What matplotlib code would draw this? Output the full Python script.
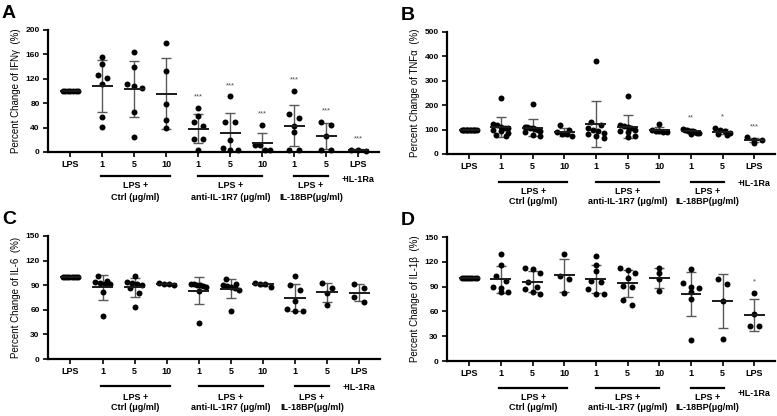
import numpy as np
import matplotlib
matplotlib.use('Agg')
import matplotlib.pyplot as plt

plt.rcParams['font.family'] = ['Liberation Sans', 'DejaVu Sans']

tick_labels = ['LPS', '1', '5', '10', '1', '5', '10', '1', '5', 'LPS']
group_names = ['Ctrl (\u03bcg/ml)', 'anti-IL-1R7 (\u03bcg/ml)', 'IL-18BP(\u03bcg/ml)']

# IFN-gamma, % change (one list per column)
ifng = [
    [100, 100, 100, 100, 100, 100, 100],
    [155, 145, 127, 121, 111, 57, 41],
    [164, 140, 112, 109, 105, 66, 25],
    [178, 132, 78, 52, 39],
    [72, 59, 50, 42, 21, 21, 4],
    [91, 49, 49, 19, 7, 4, 4],
    [44, 11, 11, 4, 4],
    [100, 62, 55, 43, 33, 4, 4],
    [50, 45, 27, 4, 4],
    [4, 4, 1],
]
ifng_stars = ['', '', '', '', '***', '***', '***', '***', '***', '***']

# TNF-alpha
tnfa = [
    [100, 100, 100, 100, 100, 100, 100, 100, 100, 100, 100, 100],
    [228, 125, 118, 112, 108, 105, 100, 95, 88, 78, 74],
    [205, 112, 110, 108, 105, 102, 100, 95, 90, 78, 72],
    [120, 100, 92, 82, 80, 75],
    [383, 130, 118, 105, 100, 95, 88, 80, 72, 65],
    [237, 120, 115, 110, 105, 100, 95, 90, 75, 70],
    [122, 97, 95, 93, 92, 90],
    [103, 100, 98, 96, 95, 93, 90, 88, 85, 80],
    [108, 97, 95, 88, 82, 78],
    [68, 58, 57, 45],
]
tnfa_stars = ['', '', '', '', '', '', '', '**', '*', '***']

# IL-6
il6 = [
    [100, 100, 100, 100, 100, 100, 100, 100],
    [101, 95, 94, 93, 92, 92, 82, 52],
    [101, 94, 93, 92, 90, 86, 80, 64],
    [90, 93, 92, 92],
    [92, 91, 90, 90, 89, 88, 83, 44],
    [97, 92, 90, 89, 88, 87, 84, 59],
    [88, 93, 91, 92],
    [101, 90, 84, 71, 61, 59, 59],
    [93, 87, 80, 66],
    [92, 86, 76, 70],
]
il6_stars = ['', '', '', '', '', '', '', '', '', '']

# IL-1beta
il1b = [
    [100, 100, 100, 100, 100, 100, 100, 100],
    [129, 116, 103, 97, 90, 88, 84, 83],
    [112, 111, 107, 96, 90, 87, 84, 81],
    [130, 103, 99, 82],
    [127, 116, 109, 97, 95, 87, 81, 81],
    [112, 110, 106, 101, 91, 90, 74, 68],
    [113, 106, 99, 85],
    [111, 94, 90, 88, 84, 75, 25],
    [99, 93, 73, 27],
    [82, 57, 42, 42],
]
il1b_stars = ['', '', '', '', '', '', '', '', '', '*']

W, H = 777, 416
fig = plt.figure(figsize=(W / 100, H / 100), dpi=100)


def spread(vals, px_per_unit, dia=5.0, step=0.3, span=0.48):
    # groups points whose markers would overlap into rows and spreads them sideways
    vals = np.asarray(vals, dtype=float)
    order = np.argsort(-vals, kind='stable')
    xs = np.zeros(len(vals))
    rows = []
    for i in order:
        if rows and abs(vals[rows[-1][0]] - vals[i]) * px_per_unit < dia:
            rows[-1].append(i)
        else:
            rows.append([i])
    for row in rows:
        n = len(row)
        if n == 1:
            continue
        d = min(step, span / (n - 1))
        for k, i in enumerate(row):
            xs[i] = (k - (n - 1) / 2) * d
    return xs


def panel(letter, box, data, stars, ylabel, ymax, ystep, lpos):
    left, top, right, bottom = box
    ax = fig.add_axes([left / W, (H - bottom) / H, (right - left) / W, (bottom - top) / H])
    hpx = bottom - top
    ppu = hpx / ymax
    x = np.arange(len(data))

    for i, vals in enumerate(data):
        vals = np.asarray(vals, dtype=float)
        m = vals.mean()
        sd = vals.std(ddof=1)
        ax.plot(x[i] + spread(vals, ppu), vals, 'o', color='black', ms=4.3,
                mew=0, zorder=3, clip_on=False)
        ax.hlines(m, x[i] - 0.33, x[i] + 0.33, color='0.1', lw=1.4, zorder=4)
        if sd > 0:
            ax.errorbar(x[i], m, yerr=sd, fmt='none', ecolor='0.35', elinewidth=1,
                        capsize=3.6, capthick=1, zorder=2)
        if stars[i]:
            ax.text(x[i], vals.max() + 0.09 * ymax, stars[i], ha='center', va='center',
                    fontsize=5.5, color='0.3')

    ax.set_xlim(-0.7, 9.65)
    ax.set_ylim(0, ymax)
    ax.set_yticks(np.arange(0, ymax + 1, ystep))
    ax.set_xticks(x)
    ax.set_xticklabels(tick_labels, fontsize=6.5, fontweight='bold')
    for t in ax.get_yticklabels():
        t.set_fontsize(6)
        t.set_fontweight('bold')
    ax.tick_params(direction='out', length=3.5, width=1.2, pad=2.5)
    for s in ['top', 'right']:
        ax.spines[s].set_visible(False)
    for s in ['left', 'bottom']:
        ax.spines[s].set_linewidth(1.6)
    ax.set_ylabel(ylabel, fontsize=7, labelpad=3)

    # group bars and labels under the axis
    tr = ax.get_xaxis_transform()
    y_line = -lpos[0] / hpx
    y_top = -lpos[1] / hpx
    y_sub = -lpos[2] / hpx
    for (a, b), name in zip([(0.95, 3.1), (4.0, 6.0), (7.0, 8.05)], group_names):
        ax.plot([a, b], [y_line, y_line], color='black', lw=1.6, transform=tr, clip_on=False)
        c = (a + b) / 2
        ax.text(c, y_top, 'LPS +', transform=tr, ha='center', va='center',
                fontsize=6.5, fontweight='bold')
        ax.text(c, y_sub, name, transform=tr, ha='center', va='center',
                fontsize=6.5, fontweight='bold')
    ax.text(9, -lpos[3] / hpx, '+IL-1Ra', transform=tr, ha='center', va='center',
            fontsize=6.5, fontweight='bold')

    fig.text((left - 46) / W, 1 - (top - 25) / H, letter, ha='left', va='top',
             fontsize=14, fontweight='bold')
    return ax


panel('A', (48, 30, 379, 152), ifng, ifng_stars, 'Percent Change of IFN\u03b3  (%)', 200, 40,
      (24, 33, 45, 27))
panel('B', (447, 32, 775, 154), tnfa, tnfa_stars, 'Percent Change of TNF\u03b1  (%)', 500, 100,
      (28, 38, 48, 29))
panel('C', (48, 236, 380, 359), il6, il6_stars, 'Percent Change of IL-6  (%)', 150, 30,
      (27, 38, 48, 29))
panel('D', (447, 237, 775, 361), il1b, il1b_stars, 'Percent Change of IL-1\u03b2  (%)', 150, 30,
      (27, 37, 47, 32))

fig.savefig('out.png', dpi=100)
